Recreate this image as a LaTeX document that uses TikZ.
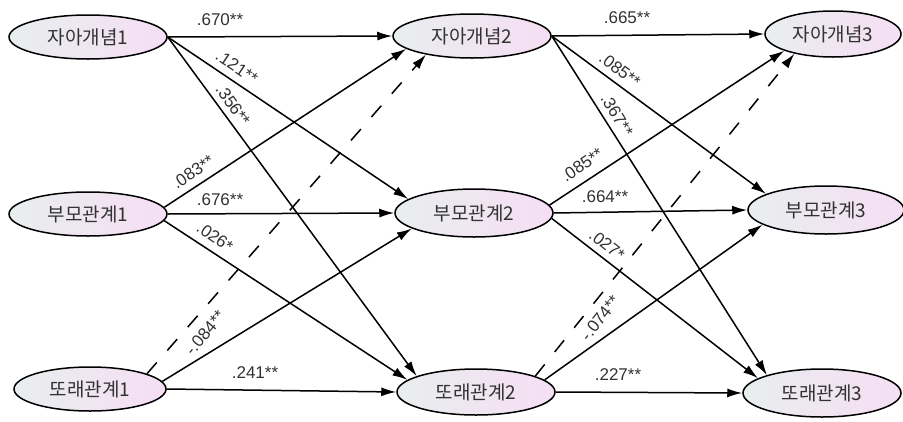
\documentclass[tikz,border=0pt]{standalone}
\usepackage{fontspec}
\setmainfont{Liberation Sans}
\newfontfamily\kor{Noto Sans CJK KR}
\usepackage{tikz}
\usetikzlibrary{arrows.meta,shapes.geometric}
\definecolor{elgris}{RGB}{232,238,238}
\definecolor{elrosa}{RGB}{246,222,244}
\definecolor{texto}{RGB}{50,50,50}

\begin{document}
\begin{tikzpicture}[x=1pt, y=-1pt, >={Latex[length=15pt,width=9pt]}, line width=1.5pt,
    latent/.style={ellipse, draw, line width=1.5pt, left color=elgris, right color=elrosa,
        minimum width=158pt, minimum height=44pt, inner sep=0pt,
        font=\kor\fontsize{19}{21}\selectfont, text=texto},
    effect/.style={->},
    nsdash/.style={dash pattern=on 15pt off 16pt},
    coef/.style={font=\fontsize{17}{19}\selectfont, text=texto, inner sep=0pt}]
    \useasboundingbox (0,0) rectangle (903,421);
    \node[latent] (self1) at (88,37) {자아개념1};
    \node[latent] (par1) at (88,214) {부모관계1};
    \node[latent, minimum width=152pt] (peer1) at (90,389) {또래관계1};
    \node[latent] (self2) at (472,36) {자아개념2};
    \node[latent, minimum height=48pt] (par2) at (474,213) {부모관계2};
    \node[latent, minimum height=46pt] (peer2) at (476,392) {또래관계2};
    \node[latent, minimum width=136pt, minimum height=46pt] (self3) at (833,34) {자아개념3};
    \node[latent, minimum width=156pt, minimum height=48pt] (par3) at (826,210) {부모관계3};
    \node[latent, minimum height=48pt] (peer3) at (822,393) {또래관계3};
    \draw[effect] (self1.east) -- (self2.west);
    \draw[effect] (self1.east) -- (par2.168);
    \draw[effect] (self1.east) -- (peer2.165);
    \draw[effect] (par1.5) -- (self2.191);
    \draw[effect] (par1.east) -- (par2.west);
    \draw[effect] (par1.-5) -- (peer2.170);
    \draw[effect, nsdash] (peer1.15) -- (self2.202);
    \draw[effect] (peer1.6) -- (par2.194);
    \draw[effect] (peer1.east) -- (peer2.west);
    \draw[effect] (self2.east) -- (self3.west);
    \draw[effect] (self2.east) -- (par3.165);
    \draw[effect] (self2.east) -- (peer3.162);
    \draw[effect] (par2.6) -- (self3.199);
    \draw[effect] (par2.east) -- (par3.west);
    \draw[effect] (par2.-4) -- (peer3.167);
    \draw[effect, nsdash] (peer2.15) -- (self3.207);
    \draw[effect] (peer2.10) -- (par3.193);
    \draw[effect] (peer2.east) -- (peer3.west);
    \node[coef] (c1) at (220,20) {.670**};
    \node[coef, rotate=-34] (c2) at (237,67) {.121**};
    \node[coef, rotate=-55] (c3) at (233,105) {.356**};
    \node[coef, rotate=34] (c4) at (193,172) {.083**};
    \node[coef] (c5) at (220,200) {.676**};
    \node[coef, rotate=-35] (c6) at (215,237) {.026*};
    \node[coef, rotate=50] (c7) at (205,333) {-.084**};
    \node[coef] (c8) at (255,373) {.241**};
    \node[coef] (c9) at (627,18) {.665**};
    \node[coef, rotate=-37] (c10) at (620,70) {.085**};
    \node[coef, rotate=-59] (c11) at (617,115) {.367**};
    \node[coef, rotate=34] (c12) at (582,165) {.085**};
    \node[coef] (c13) at (605,197) {.664**};
    \node[coef, rotate=-39] (c14) at (607,245) {.027*};
    \node[coef, rotate=52] (c15) at (600,318) {-.074**};
    \node[coef] (c16) at (618,375) {.227**};
\end{tikzpicture}
\end{document}
